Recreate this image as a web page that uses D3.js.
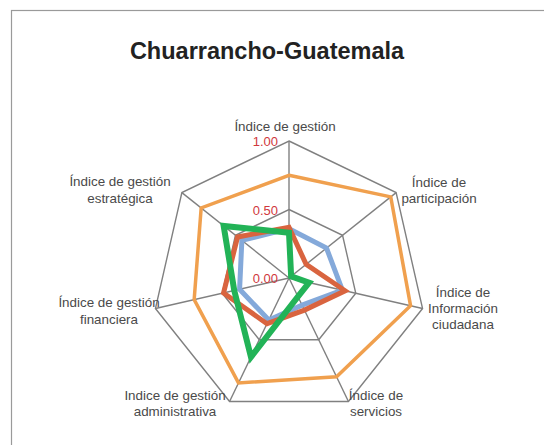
<!DOCTYPE html>
<html><head><meta charset="utf-8">
<script src="https://cdn.jsdelivr.net/npm/d3@7"></script>
<style>body{margin:0;background:#fff}</style>
</head><body>
<svg id="c" width="544" height="445"></svg>
<script>
const title = "Chuarrancho-Guatemala";
const axesLabels = [
  ["Índice de gestión"],
  ["Índice de", "participación"],
  ["Índice de", "Información", "ciudadana"],
  ["Índice de", "servicios"],
  ["Indice de gestión", "administrativa"],
  ["Índice de gestión", "financiera"],
  ["Índice de gestión", "estratégica"]
];
const gridLevels = [0.5, 1.0];
const tickLabels = ["0.00", "0.50", "1.00"];
const tickValues = [0, 0.5, 1.0];
const orangeSeries = [0.75, 0.95, 0.91, 0.80, 0.85, 0.71, 0.82];
const blueSeries   = [0.36, 0.35, 0.40, 0.22, 0.34, 0.37, 0.44];
const redSeries    = [0.37, 0.16, 0.42, 0.26, 0.37, 0.49, 0.48];
const greenSeries  = [0.33, 0.02, 0.15, 0.15, 0.64, 0.41, 0.61];

const svg = d3.select("#c");
const cx = 289, cy = 278, R = 137;
const r = d3.scaleLinear().domain([0, 1]).range([0, R]);
const n = axesLabels.length;
const ang = d3.scaleLinear().domain([0, n]).range([0, 2 * Math.PI]);
const pt = (i, v) => [cx + r(v) * Math.sin(ang(i)), cy - r(v) * Math.cos(ang(i))];

svg.append("rect").attr("x", 11.5).attr("y", 10.5).attr("width", 600).attr("height", 500)
  .attr("fill", "#fff").attr("stroke", "#9a9a9a").attr("stroke-width", 1.2);

svg.append("text").attr("x", 267).attr("y", 59).attr("text-anchor", "middle")
  .attr("font-family", "Liberation Sans, Arial, sans-serif").attr("font-weight", "bold")
  .attr("font-size", 23.5).attr("fill", "#222").text(title);

const grid = svg.append("g");
d3.range(n).forEach(i => {
  const p = pt(i, 1);
  grid.append("line").attr("x1", cx).attr("y1", cy).attr("x2", p[0]).attr("y2", p[1])
    .attr("stroke", "#808080").attr("stroke-width", 1.4);
});
const line = d3.line().curve(d3.curveLinearClosed);
gridLevels.forEach(l => {
  grid.append("path").attr("d", line(d3.range(n).map(i => pt(i, l))))
    .attr("fill", "none").attr("stroke", "#808080").attr("stroke-width", 1.4);
});

const series = [
  {v: orangeSeries, c: "#f0a04e", w: 3.5},
  {v: blueSeries, c: "#84a9da", w: 5},
  {v: redSeries, c: "#d9643f", w: 5},
  {v: greenSeries, c: "#22b357", w: 6}
];
series.forEach(s => {
  svg.append("path").attr("d", line(s.v.map((v, i) => pt(i, v))))
    .attr("fill", "none").attr("stroke", s.c).attr("stroke-width", s.w)
    .attr("stroke-linejoin", "miter");
});

tickValues.forEach((t, k) => {
  svg.append("text").attr("x", cx - 11).attr("y", cy - r(t) + 5)
    .attr("text-anchor", "end").attr("font-family", "Liberation Sans, Arial, sans-serif")
    .attr("font-size", 13).attr("fill", "#d0383c").text(tickLabels[k]);
});

const labelPos = [
  [285, [131]],
  [439, [187, 203]],
  [463, [297, 313, 329]],
  [376, [400, 416]],
  [175, [400, 416]],
  [109, [307, 324]],
  [120, [186, 203]]
];
axesLabels.forEach((lines, i) => {
  const t = svg.append("text").attr("text-anchor", "middle")
    .attr("font-family", "Liberation Sans, Arial, sans-serif").attr("font-size", 13.4)
    .attr("fill", "#4a4a4a");
  lines.forEach((s, j) => {
    t.append("tspan").attr("x", labelPos[i][0]).attr("y", labelPos[i][1][j]).text(s);
  });
});
</script>
</body></html>
